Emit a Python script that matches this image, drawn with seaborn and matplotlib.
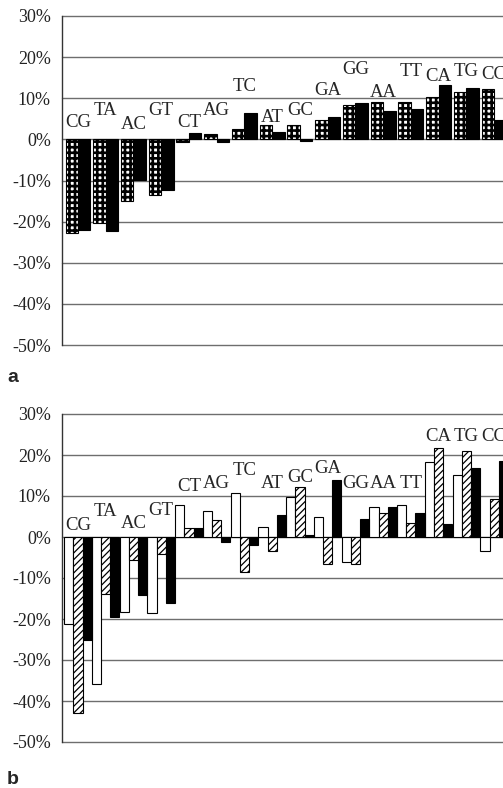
import matplotlib
matplotlib.use("Agg")
import matplotlib.pyplot as plt
import seaborn as sns
import pandas as pd

# --- data (percent) ---
dinucs = ['CG', 'TA', 'AC', 'GT', 'CT', 'AG', 'TC', 'AT',
          'GC', 'GA', 'GG', 'AA', 'TT', 'CA', 'TG', 'CC']

# panel a: checkered series and black series
a_check = [-22.8, -20.3, -15.1, -13.5, -0.7, 1.2, 2.5, 3.4,
           3.4, 4.7, 8.3, 9.0, 9.0, 10.4, 11.5, 12.2]
a_black = [-22.0, -22.4, -9.9, -12.3, 1.6, -0.6, 6.5, 1.9,
           -0.3, 5.4, 8.8, 6.9, 7.3, 13.3, 12.5, 4.6]

# panel b: white, hatched and black series
b_white = [-21.1, -35.8, -18.3, -18.5, 7.7, 6.4, 10.8, 2.5,
           9.8, 4.9, -6.0, 7.4, 7.8, 18.2, 15.2, -3.4]
b_hatch = [-43.0, -13.8, -5.7, -4.2, 2.2, 4.1, -8.6, -3.4,
           12.3, -6.6, -6.6, 5.8, 3.4, 21.6, 21.0, 9.2]
b_black = [-25.2, -19.5, -14.2, -16.1, 2.3, -1.2, -2.0, 5.3,
           0.4, 13.9, 4.4, 7.2, 5.8, 3.2, 16.8, 18.6]

# heights of the dinucleotide labels above each group
a_label_y = [4.0, 7.1, 3.5, 7.1, 4.0, 7.1, 12.8, 5.2,
             7.1, 12.0, 16.9, 11.5, 16.4, 15.2, 16.4, 15.7]
b_label_y = [2.9, 6.1, 3.3, 6.5, 12.2, 13.0, 16.3, 13.0,
             14.6, 16.7, 13.0, 13.0, 13.0, 24.4, 24.4, 24.4]

y_ticks = [-50, -40, -30, -20, -10, 0, 10, 20, 30]


def long_frame(series):
    rows = []
    for name, vals in series.items():
        for d, v in zip(dinucs, vals):
            rows.append({'dinuc': d, 'series': name, 'value': v})
    return pd.DataFrame(rows)


def style_axis(ax, label_y):
    ax.set_ylim(-50, 30)
    ax.set_xlim(-0.577, 15.32)
    ax.set_yticks(y_ticks)
    ax.set_yticklabels([f'{t}%' for t in y_ticks], family='Liberation Serif',
                       fontsize=13, color='#222222')
    ax.set_xticks([])
    ax.set_xlabel('')
    ax.set_ylabel('')
    ax.grid(axis='y', color='#6e6e6e', linewidth=1.0)
    ax.grid(axis='x', visible=False)
    for line in ax.get_ygridlines():
        line.set_clip_on(False)
    ax.set_axisbelow(True)
    for side in ['top', 'right', 'bottom']:
        ax.spines[side].set_visible(False)
    ax.spines['left'].set_color('#333333')
    ax.spines['left'].set_linewidth(1.0)
    ax.tick_params(axis='y', direction='out', length=6, width=1, color='#333333', pad=2)
    for i, (d, y) in enumerate(zip(dinucs, label_y)):
        ax.text(i, y, d, ha='center', va='center', family='Liberation Serif',
                fontsize=13.5, clip_on=False)


sns.set_style('white')
plt.rcParams['font.family'] = ['Liberation Serif', 'DejaVu Serif']

fig = plt.figure(figsize=(5.03, 7.88), dpi=100)
ax_a = fig.add_axes([62 / 503, 1 - 345 / 788, 441 / 503, 329 / 788])
ax_b = fig.add_axes([62 / 503, 1 - 742 / 788, 441 / 503, 328 / 788])

# --- panel a ---
plt.rcParams['hatch.linewidth'] = 1.9
df_a = long_frame({'check': a_check, 'black': a_black})
sns.barplot(data=df_a, x='dinuc', y='value', hue='series', order=dinucs,
            hue_order=['check', 'black'], palette={'check': 'white', 'black': 'black'},
            width=0.9, saturation=1, errorbar=None, edgecolor='black',
            linewidth=0.8, legend=False, ax=ax_a)
for bar in ax_a.containers[0]:
    bar.set_hatch('+++')
    if hasattr(bar, 'set_hatch_linewidth'):
        bar.set_hatch_linewidth(1.9)
style_axis(ax_a, a_label_y)

# --- panel b ---
plt.rcParams['hatch.linewidth'] = 0.9
df_b = long_frame({'white': b_white, 'hatch': b_hatch, 'black': b_black})
sns.barplot(data=df_b, x='dinuc', y='value', hue='series', order=dinucs,
            hue_order=['white', 'hatch', 'black'],
            palette={'white': 'white', 'hatch': 'white', 'black': 'black'},
            width=0.99, saturation=1, errorbar=None, edgecolor='black',
            linewidth=0.8, legend=False, ax=ax_b)
for bar in ax_b.containers[1]:
    bar.set_hatch('/////')
    if hasattr(bar, 'set_hatch_linewidth'):
        bar.set_hatch_linewidth(0.9)
style_axis(ax_b, b_label_y)

fig.text(0.014, 1 - 378 / 788, 'a', family='Liberation Sans', fontweight='bold',
         fontsize=14, va='center')
fig.text(0.014, 1 - 780 / 788, 'b', family='Liberation Sans', fontweight='bold',
         fontsize=14, va='center')

fig.savefig('out.png', dpi=100)
